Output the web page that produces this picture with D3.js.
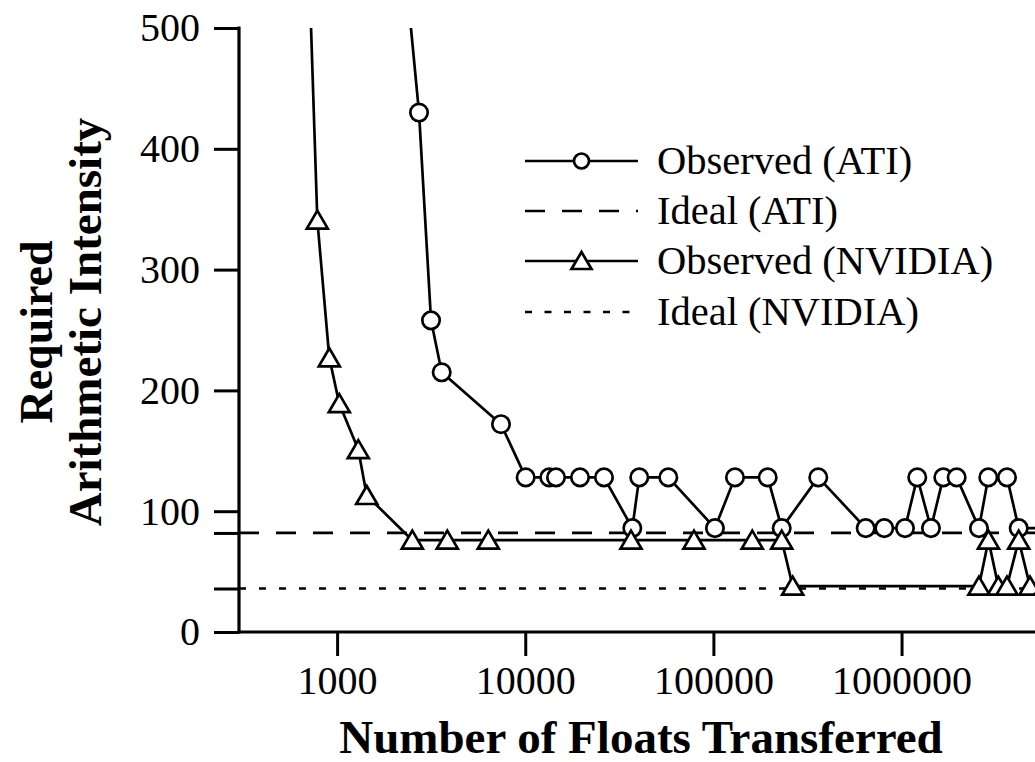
<!DOCTYPE html>
<html>
<head>
<meta charset="utf-8">
<script src="https://cdn.jsdelivr.net/npm/d3@7"></script>
<style>
  html, body { margin: 0; padding: 0; background: #fff; }
  svg { display: block; }
  text { font-family: "Liberation Serif", "Times New Roman", serif; fill: #000; }
</style>
</head>
<body>
<svg id="chart" width="1035" height="762"></svg>
<script>
// ---- Data ----
const atiX = [1862, 2725, 3156, 3597, 7431, 10050, 13420, 14570, 19540, 26210, 37070, 40370, 57580, 101900, 130200, 194300, 230700, 360900, 644800, 809300, 1043000, 1212000, 1433000, 1667000, 1963000, 2579000, 2891000, 3634000, 4194000, 5800000];
const atiY = [700, 430, 258, 215, 172, 128, 128, 128, 128, 128, 86, 128, 128, 86, 128, 128, 86, 128, 86, 86, 86, 128, 86, 128, 128, 86, 128, 128, 86, 86];

const nvX = [660, 785, 909, 1027, 1296, 1437, 2510, 3852, 6362, 36480, 78830, 160900, 230700, 263800, 2579000, 2897000, 3267000, 3634000, 4194000, 4815000, 5800000];
const nvY = [700, 341, 227, 189, 151, 113, 76, 76, 76, 76, 76, 76, 76, 38, 38, 76, 38, 38, 76, 38, 38];

const idealATI = 82;
const idealNVIDIA = 36;

const xTicks = [1000, 10000, 100000, 1000000];
const xTickLabels = ["1000", "10000", "100000", "1000000"];
const yTicks = [0, 100, 200, 300, 400, 500];

const legendLabels = ["Observed (ATI)", "Ideal (ATI)", "Observed (NVIDIA)", "Ideal (NVIDIA)"];

const xTitle = "Number of Floats Transferred";
const yTitle = ["Required", "Arithmetic Intensity"];

// ---- Layout ----
const svg = d3.select("#chart");
const W = 1035, H = 762;
const mLeft = 239, mRight = 1035, mTop = 28, mBottom = 632;

const x = d3.scaleLog().domain([301, 5120000]).range([mLeft, mRight]);
const y = d3.scaleLinear().domain([0, 500]).range([mBottom, mTop]);

const SW = 2.7;

// clip for data
svg.append("defs").append("clipPath").attr("id", "clip")
  .append("rect").attr("x", mLeft).attr("y", mTop).attr("width", mRight - mLeft + 20).attr("height", mBottom - mTop);

// ideal lines
svg.append("line")
  .attr("x1", mLeft).attr("x2", W).attr("y1", y(idealATI)).attr("y2", y(idealATI))
  .attr("stroke", "#000").attr("stroke-width", SW).attr("stroke-dasharray", "20,17");
svg.append("line")
  .attr("x1", mLeft).attr("x2", W).attr("y1", y(idealNVIDIA)).attr("y2", y(idealNVIDIA))
  .attr("stroke", "#000").attr("stroke-width", SW).attr("stroke-dasharray", "7,13");

const g = svg.append("g").attr("clip-path", "url(#clip)");
const line = d3.line().x(d => x(d[0])).y(d => y(d[1]));

const atiData = atiX.map((v, i) => [v, atiY[i]]);
const nvData = nvX.map((v, i) => [v, nvY[i]]);

const triPath = "M0,-9.5 L10.5,8.5 L-10.5,8.5 Z";

// ATI series
g.append("path").datum(atiData).attr("d", line)
  .attr("fill", "none").attr("stroke", "#000").attr("stroke-width", SW).attr("stroke-linejoin", "round");
g.selectAll("circle.ati").data(atiData).join("circle").attr("class", "ati")
  .attr("cx", d => x(d[0])).attr("cy", d => y(d[1])).attr("r", 8.7)
  .attr("fill", "#fff").attr("stroke", "#000").attr("stroke-width", SW);

// NVIDIA series
g.append("path").datum(nvData).attr("d", line)
  .attr("fill", "none").attr("stroke", "#000").attr("stroke-width", SW).attr("stroke-linejoin", "round");
g.selectAll("path.nv").data(nvData).join("path").attr("class", "nv")
  .attr("d", triPath)
  .attr("transform", d => `translate(${x(d[0])},${y(d[1])})`)
  .attr("fill", "#fff").attr("stroke", "#000").attr("stroke-width", SW).attr("stroke-linejoin", "miter");

// ---- Axes ----
const xAxis = d3.axisBottom(x).tickValues(xTicks).tickFormat((d, i) => xTickLabels[i])
  .tickSize(24).tickPadding(10).tickSizeOuter(0);
const xg = svg.append("g").attr("transform", `translate(0,${mBottom})`).call(xAxis);
xg.select(".domain").remove();
xg.selectAll(".tick line").attr("stroke", "#000").attr("stroke-width", 3);
xg.selectAll(".tick text").style("font-family", "'Liberation Serif', serif").style("font-size", "40px").attr("fill", "#000");

const yAxis = d3.axisLeft(y).tickValues(yTicks.concat([idealATI, idealNVIDIA]))
  .tickFormat(d => yTicks.includes(d) ? String(d) : "")
  .tickSize(25).tickPadding(14).tickSizeOuter(0);
const yg = svg.append("g").attr("transform", `translate(${mLeft},0)`).call(yAxis);
yg.select(".domain").remove();
yg.selectAll(".tick line").attr("stroke", "#000").attr("stroke-width", 3);
yg.selectAll(".tick text").style("font-family", "'Liberation Serif', serif").style("font-size", "40px").attr("fill", "#000");

// axis lines
svg.append("line").attr("x1", mLeft).attr("x2", W).attr("y1", mBottom).attr("y2", mBottom)
  .attr("stroke", "#000").attr("stroke-width", 3.2);
svg.append("line").attr("x1", mLeft).attr("x2", mLeft).attr("y1", mTop - 1.5).attr("y2", mBottom + 1.5)
  .attr("stroke", "#000").attr("stroke-width", 3.2);

// ---- Titles ----
svg.append("text").attr("x", 641).attr("y", 753).attr("text-anchor", "middle")
  .style("font-size", "47px").style("font-weight", "bold").text(xTitle);

svg.append("text").attr("transform", "translate(52,332) rotate(-90)").attr("text-anchor", "middle")
  .style("font-size", "46px").style("font-weight", "bold").text(yTitle[0]);
svg.append("text").attr("transform", "translate(101,322) rotate(-90)").attr("text-anchor", "middle")
  .style("font-size", "47px").style("font-weight", "bold").text(yTitle[1]);

// ---- Legend ----
const lx1 = 525, lx2 = 638, ltx = 657;
const rows = [161, 211, 261, 312];
const lg = svg.append("g");
lg.append("line").attr("x1", lx1).attr("x2", lx2).attr("y1", rows[0]).attr("y2", rows[0])
  .attr("stroke", "#000").attr("stroke-width", SW);
lg.append("circle").attr("cx", (lx1 + lx2) / 2).attr("cy", rows[0]).attr("r", 7.5)
  .attr("fill", "#fff").attr("stroke", "#000").attr("stroke-width", SW);
lg.append("line").attr("x1", lx1).attr("x2", lx2).attr("y1", rows[1]).attr("y2", rows[1])
  .attr("stroke", "#000").attr("stroke-width", SW).attr("stroke-dasharray", "20,17");
lg.append("line").attr("x1", lx1).attr("x2", lx2).attr("y1", rows[2]).attr("y2", rows[2])
  .attr("stroke", "#000").attr("stroke-width", SW);
lg.append("path").attr("d", "M0,-9 L10,8 L-10,8 Z")
  .attr("transform", `translate(${(lx1 + lx2) / 2},${rows[2]})`)
  .attr("fill", "#fff").attr("stroke", "#000").attr("stroke-width", SW);
lg.append("line").attr("x1", lx1).attr("x2", lx2 - 6).attr("y1", rows[3]).attr("y2", rows[3])
  .attr("stroke", "#000").attr("stroke-width", SW).attr("stroke-dasharray", "7,12.5");

lg.selectAll("text.leg").data(legendLabels).join("text").attr("class", "leg")
  .attr("x", ltx).attr("y", (d, i) => rows[i]).attr("dy", "0.32em")
  .style("font-size", "40.5px").text(d => d);
</script>
</body>
</html>
